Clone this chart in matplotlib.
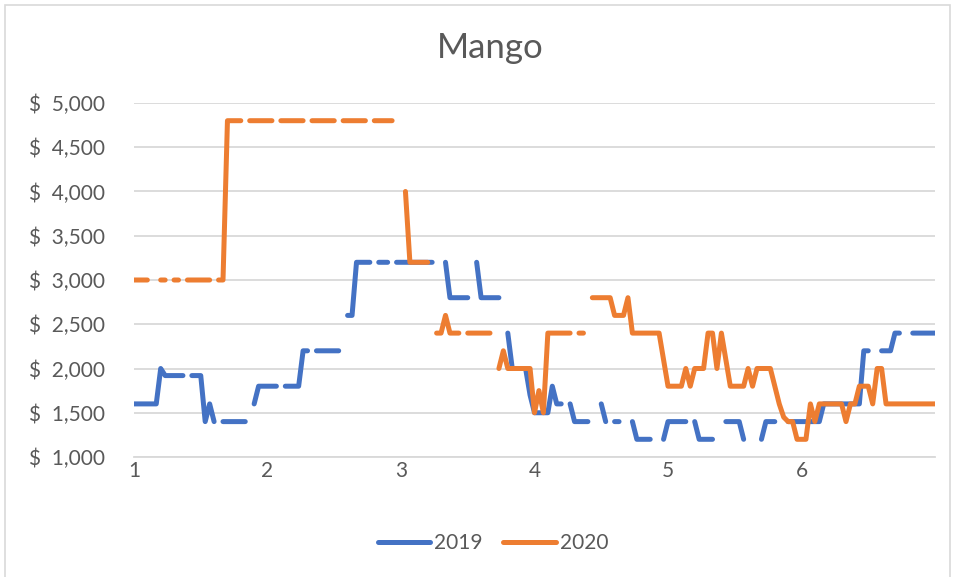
import numpy as np
import matplotlib.pyplot as plt
from matplotlib.lines import Line2D
from matplotlib.patches import Rectangle
from matplotlib.ticker import FuncFormatter

nan = np.nan

# Daily prices, day 0 = start of month 1 (about 30 days per month); nan = no price that day
price_2019 = [
    1600, 1600, 1600, 1600, 1600, 1600, 2000, 1920, 1920, 1920,
    1920, 1920, nan, 1920, 1920, 1920, 1400, 1600, 1400, nan,
    1400, 1400, 1400, 1400, 1400, 1400, nan, 1600, 1800, 1800,
    1800, 1800, 1800, nan, 1800, 1800, 1800, 1800, 2200, 2200,
    nan, 2200, 2200, 2200, 2200, 2200, 2200, nan, 2600, 2600,
    3200, 3200, 3200, 3200, nan, 3200, 3200, 3200, nan, 3200,
    3200, 3200, 3200, 3200, 3200, 3200, 3200, 3200, nan, nan,
    3200, 2800, 2800, 2800, 2800, 2800, nan, 3200, 2800, 2800,
    2800, 2800, 2800, nan, 2400, 2000, 2000, 2000, 2000, 1700,
    1500, 1500, 1500, 1500, 1800, 1600, 1600, nan, 1600, 1400,
    1400, 1400, 1400, nan, nan, 1600, 1400, nan, 1400, 1400,
    nan, nan, 1400, 1200, 1200, 1200, 1200, nan, nan, 1200,
    1400, 1400, 1400, 1400, 1400, nan, 1400, 1200, 1200, 1200,
    1200, nan, nan, 1400, 1400, 1400, 1400, 1200, nan, nan,
    nan, 1200, 1400, 1400, 1400, nan, nan, 1400, 1400, 1400,
    1400, 1400, 1400, 1400, 1400, 1600, 1600, 1600, 1600, 1600,
    1600, 1600, 1600, 1600, 2200, 2200, nan, nan, 2200, 2200,
    2200, 2400, 2400, nan, nan, 2400, 2400, 2400, 2400, 2400, 2400,
]

price_2020 = [
    3000, 3000, 3000, 3000, nan, nan, 3000, 3000, nan, 3000,
    3000, nan, 3000, 3000, 3000, 3000, 3000, 3000, nan, 3000,
    3000, 4800, 4800, 4800, 4800, nan, 4800, 4800, 4800, 4800,
    4800, 4800, nan, 4800, 4800, 4800, 4800, 4800, 4800, nan,
    4800, 4800, 4800, 4800, 4800, 4800, nan, 4800, 4800, 4800,
    4800, 4800, 4800, nan, 4800, 4800, 4800, 4800, 4800, nan,
    nan, 4000, 3200, 3200, 3200, 3200, 3200, nan, 2400, 2400,
    2600, 2400, 2400, 2400, nan, 2400, 2400, 2400, 2400, 2400,
    2400, nan, 2000, 2200, 2000, 2000, 2000, 2000, 2000, 2000,
    1500, 1750, 1500, 2400, 2400, 2400, 2400, 2400, 2400, nan,
    2400, 2400, nan, 2800, 2800, 2800, 2800, 2800, 2600, 2600,
    2600, 2800, 2400, 2400, 2400, 2400, 2400, 2400, 2400, 2100,
    1800, 1800, 1800, 1800, 2000, 1800, 2000, 2000, 2000, 2400,
    2400, 2000, 2400, 2100, 1800, 1800, 1800, 1800, 2000, 1800,
    2000, 2000, 2000, 2000, 1800, 1600, 1450, 1400, 1400, 1200,
    1200, 1200, 1600, 1400, 1600, 1600, 1600, 1600, 1600, 1600,
    1400, 1600, 1600, 1800, 1800, 1800, 1600, 2000, 2000, 1600,
    1600, 1600, 1600, 1600, 1600, 1600, 1600, 1600, 1600, 1600, 1600,
]

series_names = ["2019", "2020"]
series_colors = ["#4472C4", "#ED7D31"]
month_ticks = [1, 2, 3, 4, 5, 6]

# x position in months
x = 1 + np.arange(len(price_2019)) / 30.0

plt.rcParams['font.family'] = ['Lato', 'DejaVu Sans']
TEXT = '#595959'
GRID = '#D9D9D9'

fig = plt.figure(figsize=(9.58, 5.77), dpi=100)
ax = fig.add_axes([134 / 958, 1 - 457 / 577, (935 - 134) / 958, (457 - 103) / 577])

for vals, color in zip([price_2019, price_2020], series_colors):
    ax.plot(x, vals, color=color, lw=3.6, solid_capstyle='round',
            solid_joinstyle='round')

ax.set_xlim(1, 7)
ax.set_ylim(1000, 5000)
ax.set_xticks(month_ticks)
ax.set_yticks(np.arange(1000, 5001, 500))
# accounting style: "$" set apart from the number
ax.yaxis.set_major_formatter(FuncFormatter(lambda v, p: f"$  {v:,.0f}"))
ax.grid(True, axis='y', color=GRID, lw=1.3)
ax.set_axisbelow(True)
for side in ['top', 'right', 'left']:
    ax.spines[side].set_visible(False)
ax.spines['bottom'].set_color(GRID)
ax.spines['bottom'].set_linewidth(1.3)
ax.tick_params(axis='y', length=0, pad=21, labelsize=15, labelcolor=TEXT)
ax.tick_params(axis='x', length=0, pad=3, labelsize=15, labelcolor=TEXT)

fig.text(490 / 958, 1 - 48 / 577, "Mango", ha='center', va='center',
         fontsize=25, color=TEXT)

handles = [Line2D([], [], color=c, lw=3.6, solid_capstyle='round') for c in series_colors]
leg = fig.legend(handles, series_names, loc='center', bbox_to_anchor=(493 / 958, 1 - 543 / 577),
                 ncol=2, frameon=False, fontsize=15, handlelength=2.5, handletextpad=0.2,
                 columnspacing=1.0)
for t in leg.get_texts():
    t.set_color(TEXT)

# chart area border
fig.patches.append(Rectangle((5 / 958, -0.01), 945 / 958, 1 - 5 / 577 + 0.01,
                             transform=fig.transFigure, fill=False, ec=GRID, lw=1.2))

fig.savefig("out.png", dpi=100)
